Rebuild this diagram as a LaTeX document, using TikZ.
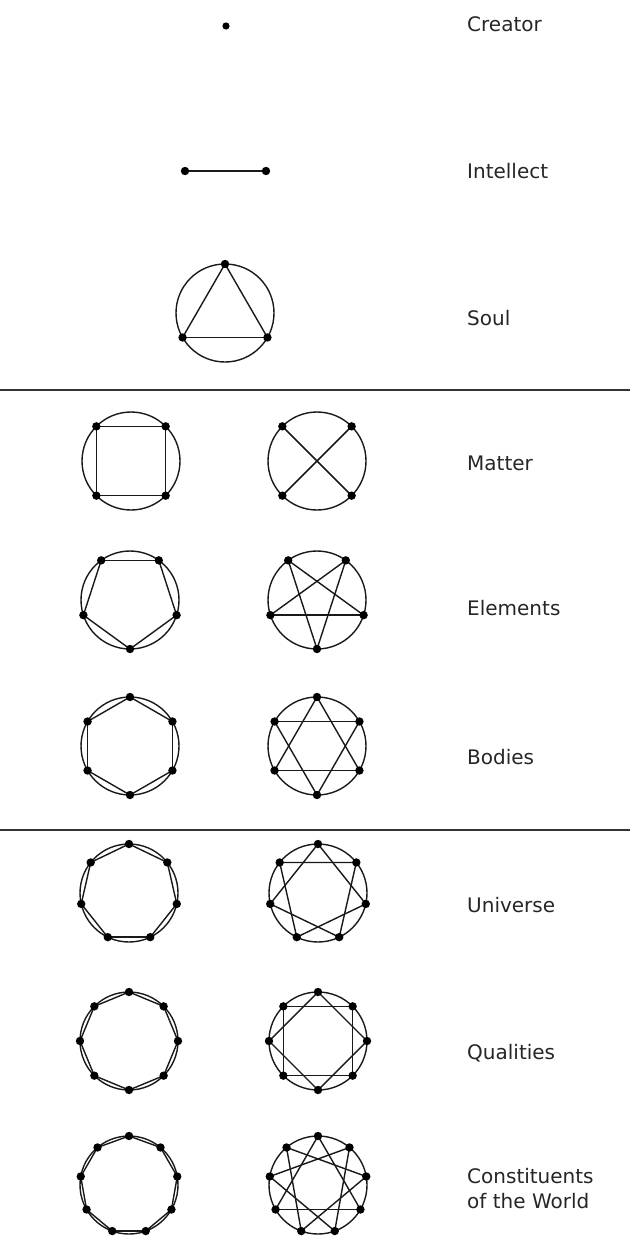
\documentclass[tikz,border=0pt]{standalone}
\usepackage{fontspec}
\setmainfont{DejaVu Sans}
\usetikzlibrary{calc}
\tikzset{
  circ/.style={line width=1.4pt, draw=black!90},
  edge/.style={line width=1.4pt, draw=black!90},
  vdot/.style={fill=black, draw=none},
  lbl/.style={anchor=base west, font=\fontsize{20}{25}\selectfont, text=black!85, inner sep=0pt, align=left},
  rule/.style={line width=1.3pt, draw=black!80}
}
% name, cx, cy, n, k, start angle
\newcommand{\polyfig}[6]{%
  \draw[circ] (#2,#3) circle[radius=49];
  \foreach \i in {1,...,#4}{%
    \pgfmathsetmacro{\a}{#6+360*(\i-1)/#4}%
    \coordinate (#1-\i) at ({#2+49*cos(\a)},{#3-49*sin(\a)});
  }
  \foreach \i in {1,...,#4}{%
    \pgfmathtruncatemacro{\j}{mod(\i-1+#5,#4)+1}%
    \draw[edge] (#1-\i) -- (#1-\j);
  }
  \foreach \i in {1,...,#4}{\fill[vdot] (#1-\i) circle[radius=4.2];}
}
\begin{document}
\begin{tikzpicture}[x=1pt,y=-1pt]
\useasboundingbox (0,0) rectangle (630,1239);
% Creator
\coordinate (cr) at (226,26);
\fill[vdot] (cr) circle[radius=3.6];
\node[lbl] (lcr) at (467,31.5) {Creator};
% Intellect
\coordinate (in1) at (185,171);
\coordinate (in2) at (266,171);
\draw[edge] (in1) -- (in2);
\fill[vdot] (in1) circle[radius=4.2];
\fill[vdot] (in2) circle[radius=4.2];
\node[lbl] (lin) at (467,178) {Intellect};
% Soul
\polyfig{soul}{225}{313}{3}{1}{90}
\node[lbl] (lso) at (467,325) {Soul};
% rule 1
\coordinate (r1a) at (0,390);
\coordinate (r1b) at (630,390);
\draw[rule] (r1a) -- (r1b);
% Matter
\polyfig{mL}{131}{461}{4}{1}{45}
\polyfig{mR}{317}{461}{4}{2}{45}
\node[lbl] (lma) at (467,470) {Matter};
% Elements
\polyfig{eL}{130}{600}{5}{1}{-90}
\polyfig{eR}{317}{600}{5}{2}{-90}
\node[lbl] (lel) at (467,615) {Elements};
% Bodies
\polyfig{bL}{130}{746}{6}{1}{90}
\polyfig{bR}{317}{746}{6}{2}{90}
\node[lbl] (lbo) at (467,764) {Bodies};
% rule 2
\coordinate (r2a) at (0,830);
\coordinate (r2b) at (630,830);
\draw[rule] (r2a) -- (r2b);
% Universe
\polyfig{uL}{129}{893}{7}{1}{90}
\polyfig{uR}{318}{893}{7}{2}{90}
\node[lbl] (lun) at (467,912) {Universe};
% Qualities
\polyfig{qL}{129}{1041}{8}{1}{90}
\polyfig{qR}{318}{1041}{8}{2}{90}
\node[lbl] (lqu) at (467,1059) {Qualities};
% Constituents
\polyfig{cL}{129}{1185}{9}{1}{90}
\polyfig{cR}{318}{1185}{9}{3}{90}
\node[lbl] (lc1) at (467,1183) {Constituents};
\node[lbl] (lc2) at (467,1208) {of the World};
\end{tikzpicture}
\end{document}
